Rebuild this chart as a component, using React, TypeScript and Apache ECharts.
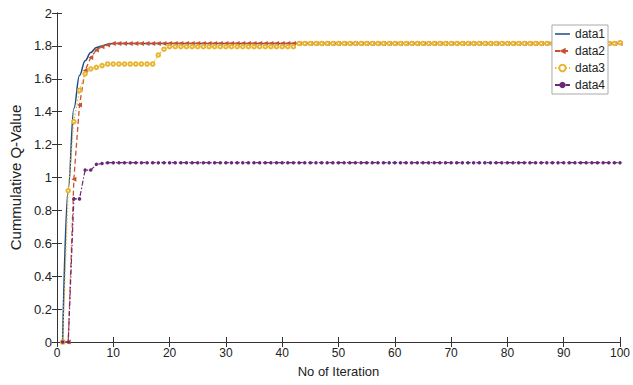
import React, { useEffect, useRef } from "react";
import * as echarts from "echarts";

const iterations: number[] = [
  1, 2, 3, 4, 5, 6, 7, 8, 9, 10, 11, 12, 13, 14, 15, 16, 17, 18, 19, 20,
  21, 22, 23, 24, 25, 26, 27, 28, 29, 30, 31, 32, 33, 34, 35, 36, 37, 38, 39, 40,
  41, 42, 43, 44, 45, 46, 47, 48, 49, 50, 51, 52, 53, 54, 55, 56, 57, 58, 59, 60,
  61, 62, 63, 64, 65, 66, 67, 68, 69, 70, 71, 72, 73, 74, 75, 76, 77, 78, 79, 80,
  81, 82, 83, 84, 85, 86, 87, 88, 89, 90, 91, 92, 93, 94, 95, 96, 97, 98, 99, 100,
];

const data1: number[] = [
  0, 0.93, 1.42, 1.62, 1.71, 1.76, 1.79, 1.80, 1.81, 1.815,
  1.815, 1.815, 1.815, 1.815, 1.815, 1.815, 1.815, 1.815, 1.815, 1.815,
  1.815, 1.815, 1.815, 1.815, 1.815, 1.815, 1.815, 1.815, 1.815, 1.815,
  1.815, 1.815, 1.815, 1.815, 1.815, 1.815, 1.815, 1.815, 1.815, 1.815,
  1.815, 1.815, 1.815, 1.815, 1.815, 1.815, 1.815, 1.815, 1.815, 1.815,
  1.815, 1.815, 1.815, 1.815, 1.815, 1.815, 1.815, 1.815, 1.815, 1.815,
  1.815, 1.815, 1.815, 1.815, 1.815, 1.815, 1.815, 1.815, 1.815, 1.815,
  1.815, 1.815, 1.815, 1.815, 1.815, 1.815, 1.815, 1.815, 1.815, 1.815,
  1.815, 1.815, 1.815, 1.815, 1.815, 1.815, 1.815, 1.815, 1.815, 1.815,
  1.815, 1.815, 1.815, 1.815, 1.815, 1.815, 1.815, 1.815, 1.815, 1.815,
];

const data2: number[] = [
  0, 0, 0.99, 1.44, 1.65, 1.73, 1.775, 1.795, 1.805, 1.815,
  1.815, 1.815, 1.815, 1.815, 1.815, 1.815, 1.815, 1.815, 1.815, 1.815,
  1.815, 1.815, 1.815, 1.815, 1.815, 1.815, 1.815, 1.815, 1.815, 1.815,
  1.815, 1.815, 1.815, 1.815, 1.815, 1.815, 1.815, 1.815, 1.815, 1.815,
  1.815, 1.815, 1.815, 1.815, 1.815, 1.815, 1.815, 1.815, 1.815, 1.815,
  1.815, 1.815, 1.815, 1.815, 1.815, 1.815, 1.815, 1.815, 1.815, 1.815,
  1.815, 1.815, 1.815, 1.815, 1.815, 1.815, 1.815, 1.815, 1.815, 1.815,
  1.815, 1.815, 1.815, 1.815, 1.815, 1.815, 1.815, 1.815, 1.815, 1.815,
  1.815, 1.815, 1.815, 1.815, 1.815, 1.815, 1.815, 1.815, 1.815, 1.815,
  1.815, 1.815, 1.815, 1.815, 1.815, 1.815, 1.815, 1.815, 1.815, 1.815,
];

const data3: number[] = [
  0, 0.92, 1.34, 1.53, 1.63, 1.66, 1.67, 1.68, 1.69, 1.69,
  1.69, 1.69, 1.69, 1.69, 1.69, 1.69, 1.69, 1.745, 1.78, 1.795,
  1.795, 1.795, 1.795, 1.795, 1.795, 1.795, 1.795, 1.795, 1.795, 1.795,
  1.795, 1.795, 1.795, 1.795, 1.795, 1.795, 1.795, 1.795, 1.795, 1.795,
  1.795, 1.795, 1.815, 1.815, 1.815, 1.815, 1.815, 1.815, 1.815, 1.815,
  1.815, 1.815, 1.815, 1.815, 1.815, 1.815, 1.815, 1.815, 1.815, 1.815,
  1.815, 1.815, 1.815, 1.815, 1.815, 1.815, 1.815, 1.815, 1.815, 1.815,
  1.815, 1.815, 1.815, 1.815, 1.815, 1.815, 1.815, 1.815, 1.815, 1.815,
  1.815, 1.815, 1.815, 1.815, 1.815, 1.815, 1.815, 1.815, 1.815, 1.815,
  1.815, 1.815, 1.815, 1.815, 1.815, 1.815, 1.815, 1.815, 1.815, 1.82,
];

const data4: number[] = [
  0, 0, 0.87, 0.87, 1.045, 1.045, 1.08, 1.085, 1.09, 1.09,
  1.09, 1.09, 1.09, 1.09, 1.09, 1.09, 1.09, 1.09, 1.09, 1.09,
  1.09, 1.09, 1.09, 1.09, 1.09, 1.09, 1.09, 1.09, 1.09, 1.09,
  1.09, 1.09, 1.09, 1.09, 1.09, 1.09, 1.09, 1.09, 1.09, 1.09,
  1.09, 1.09, 1.09, 1.09, 1.09, 1.09, 1.09, 1.09, 1.09, 1.09,
  1.09, 1.09, 1.09, 1.09, 1.09, 1.09, 1.09, 1.09, 1.09, 1.09,
  1.09, 1.09, 1.09, 1.09, 1.09, 1.09, 1.09, 1.09, 1.09, 1.09,
  1.09, 1.09, 1.09, 1.09, 1.09, 1.09, 1.09, 1.09, 1.09, 1.09,
  1.09, 1.09, 1.09, 1.09, 1.09, 1.09, 1.09, 1.09, 1.09, 1.09,
  1.09, 1.09, 1.09, 1.09, 1.09, 1.09, 1.09, 1.09, 1.09, 1.09,
];

const seriesNames = ["data1", "data2", "data3", "data4"];
const colors = ["#1f4a85", "#c8502e", "#e9b530", "#6a2a78"];

const pairs = (ys: number[]) => iterations.map((x, i) => [x, ys[i]]);

export default function App() {
  const ref = useRef<HTMLDivElement>(null);
  useEffect(() => {
    if (!ref.current) return;
    const chart = echarts.init(ref.current, undefined, { renderer: "svg" });
    const axisColor = "#333";
    const font = "'Liberation Sans', Arial, sans-serif";
    const baseAxis = {
      axisLine: { show: true, lineStyle: { color: axisColor, width: 1 } },
      axisTick: { show: true, inside: true, length: 5, lineStyle: { color: axisColor } },
      splitLine: { show: false },
    };
    chart.setOption({
      animation: false,
      backgroundColor: "#fff",
      color: colors,
      textStyle: { fontFamily: font },
      grid: { left: 53, right: 13, top: 13, bottom: 43 },
      legend: {
        orient: "vertical",
        right: 25,
        top: 25,
        itemWidth: 15,
        itemHeight: 8,
        itemGap: 5,
        padding: [3, 3, 3, 2],
        backgroundColor: "#fff",
        borderColor: "#aaa",
        borderWidth: 1,
        borderRadius: 0,
        textStyle: { fontSize: 12, color: "#222", fontFamily: font },
        data: [
          { name: seriesNames[0], icon: "path://M0,0H20V2H0Z" },
          { name: seriesNames[1] },
          { name: seriesNames[2] },
          { name: seriesNames[3] },
        ],
      },
      xAxis: [
        {
          ...baseAxis,
          type: "value",
          min: 0,
          max: 100,
          interval: 10,
          position: "bottom",
          name: "No of Iteration",
          nameLocation: "middle",
          nameGap: 23,
          nameTextStyle: { fontSize: 13, color: "#222", fontFamily: font },
          axisLabel: { fontSize: 12, color: "#222", margin: 5, fontFamily: font },
        },
        {
          ...baseAxis,
          type: "value",
          min: 0,
          max: 100,
          interval: 10,
          position: "top",
          axisLabel: { show: false },
        },
      ],
      yAxis: [
        {
          ...baseAxis,
          type: "value",
          min: 0,
          max: 2,
          interval: 0.2,
          position: "left",
          name: "Cummulative Q-Value",
          nameLocation: "middle",
          nameGap: 27,
          nameTextStyle: { fontSize: 15, color: "#222", fontFamily: font },
          axisLabel: { fontSize: 13, color: "#222", margin: 5, fontFamily: font },
        },
        {
          ...baseAxis,
          type: "value",
          min: 0,
          max: 2,
          interval: 0.2,
          position: "right",
          axisLabel: { show: false },
        },
      ],
      series: [
        {
          name: seriesNames[0],
          type: "line",
          data: pairs(data1),
          symbol: "none",
          smooth: 0.4,
          smoothMonotone: "x",
          lineStyle: { color: colors[0], width: 1.5 },
          itemStyle: { color: colors[0] },
        },
        {
          name: seriesNames[1],
          type: "line",
          data: pairs(data2),
          symbol: "triangle",
          symbolSize: 5,
          symbolRotate: 90,
          lineStyle: { color: colors[1], width: 1.3, type: [5, 3] },
          itemStyle: { color: colors[1] },
        },
        {
          name: seriesNames[2],
          type: "line",
          data: pairs(data3),
          symbol: "emptyCircle",
          symbolSize: 3.5,
          lineStyle: { color: colors[2], width: 1.2, type: [1.5, 2] },
          itemStyle: { color: colors[2], borderWidth: 1.2 },
        },
        {
          name: seriesNames[3],
          type: "line",
          data: pairs(data4),
          symbol: "circle",
          symbolSize: 3.5,
          lineStyle: { color: colors[3], width: 1.2, type: [5, 2, 1.5, 2] },
          itemStyle: { color: colors[3] },
        },
      ],
    });
    return () => chart.dispose();
  }, []);
  return <div ref={ref} style={{ width: 633, height: 385, position: "fixed", left: 0, top: 0 }} />;
}
